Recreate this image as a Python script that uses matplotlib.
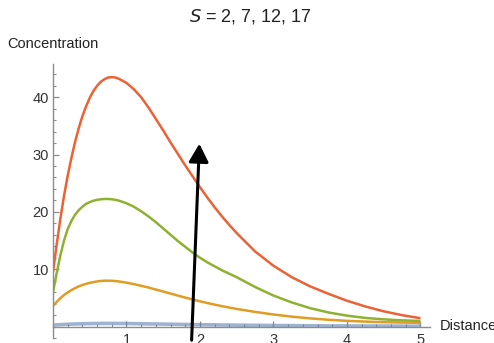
import matplotlib
matplotlib.use("Agg")
import matplotlib.pyplot as plt
from matplotlib.patches import FancyArrowPatch
from matplotlib.ticker import MultipleLocator, FixedLocator

plt.rcParams['font.family'] = ['Liberation Sans', 'DejaVu Sans']

# distance grid shared by all curves (finer near the peak)
distance = [0, 0.05, 0.1, 0.15, 0.2, 0.25, 0.3, 0.35, 0.4, 0.45, 0.5, 0.55, 0.6,
            0.65, 0.7, 0.75, 0.8, 0.85, 0.9,
            1.0, 1.1, 1.2, 1.3, 1.4, 1.5, 1.6, 1.7, 1.8, 1.9, 2.0, 2.1, 2.2, 2.3,
            2.4, 2.5,
            2.75, 3.0, 3.25, 3.5, 3.75, 4.0, 4.25, 4.5, 4.75, 5.0]

# concentration for S = 2, 7, 12, 17
conc_s2 = [0.25, 0.29, 0.33, 0.36, 0.39, 0.42, 0.44, 0.46, 0.48, 0.5, 0.51, 0.52, 0.53,
           0.54, 0.54, 0.54, 0.54, 0.54, 0.53,
           0.52, 0.5, 0.48, 0.46, 0.44, 0.42, 0.4, 0.38, 0.36, 0.34, 0.32, 0.3, 0.29,
           0.27, 0.26, 0.24,
           0.21, 0.18, 0.15, 0.13, 0.11, 0.1, 0.09, 0.08, 0.07, 0.06]
conc_s7 = [3.6, 4.3, 4.95, 5.5, 5.95, 6.35, 6.7, 7.0, 7.25, 7.45, 7.62, 7.75, 7.87,
           7.95, 8.0, 8.0, 7.98, 7.93, 7.86,
           7.65, 7.4, 7.1, 6.8, 6.45, 6.1, 5.75, 5.4, 5.05, 4.72, 4.4, 4.1, 3.82,
           3.55, 3.3, 3.07,
           2.55, 2.1, 1.72, 1.42, 1.18, 0.99, 0.86, 0.76, 0.7, 0.65]
conc_s12 = [6.0, 9.3, 12.4, 15.0, 17.0, 18.4, 19.5, 20.3, 20.9, 21.4, 21.7, 21.95, 22.1,
            22.2, 22.25, 22.25, 22.2, 22.1, 21.95,
            21.5, 20.9, 20.1, 19.2, 18.2, 17.1, 16.0, 14.9, 13.9, 12.9, 12.0, 11.2, 10.5,
            9.8, 9.2, 8.6,
            6.9, 5.4, 4.2, 3.2, 2.45, 1.9, 1.5, 1.25, 1.08, 0.97]
conc_s17 = [9.5, 14.3, 18.8, 22.8, 26.3, 29.4, 32.2, 34.6, 36.7, 38.4, 39.9, 41.1, 42.0,
            42.7, 43.15, 43.45, 43.5, 43.45, 43.2,
            42.5, 41.4, 40.0, 38.2, 36.2, 34.2, 32.1, 30.1, 28.1, 26.2, 24.3, 22.5, 20.8,
            19.2, 17.7, 16.3,
            13.1, 10.6, 8.6, 7.0, 5.7, 4.5, 3.5, 2.65, 1.98, 1.45]

series = [conc_s2, conc_s7, conc_s12, conc_s17]
colors = ['#5E81B5', '#E19C24', '#8FB131', '#EB6235']

fig = plt.figure(figsize=(4.94, 3.43), dpi=100)
ax = fig.add_axes([0.1073, 0.0146, 0.7632, 0.7988])

for vals, c in zip(series, colors):
    if c == '#5E81B5':
        ax.plot(distance, vals, color=c, lw=2.6, alpha=0.6, solid_capstyle='butt')
    else:
        ax.plot(distance, vals, color=c, lw=1.8, solid_capstyle='butt')

ax.set_xlim(0, 5.13)
ax.set_ylim(-2.0, 45.8)

# axes crossing at the origin
for s in ['top', 'right']:
    ax.spines[s].set_visible(False)
ax.spines['bottom'].set_position(('data', 0))
ax.spines['left'].set_position(('data', 0))
for s in ['bottom', 'left']:
    ax.spines[s].set_color('#8c8c8c')
    ax.spines[s].set_linewidth(1.0)

ax.xaxis.set_major_locator(FixedLocator([1, 2, 3, 4, 5]))
ax.xaxis.set_minor_locator(MultipleLocator(0.2))
ax.yaxis.set_major_locator(FixedLocator([10, 20, 30, 40]))
ax.yaxis.set_minor_locator(MultipleLocator(2))
ax.tick_params(which='both', direction='in', color='#8c8c8c', labelcolor='#333333',
               labelsize=10.5)
ax.tick_params(which='major', length=4.5, width=0.9)
ax.tick_params(which='minor', length=2.5, width=0.8)
ax.tick_params(axis='x', pad=5)
ax.tick_params(axis='y', pad=3)

fig.text(7 / 494, 1 - 44 / 343, 'Concentration', fontsize=10.5, color='#222222',
         ha='left', va='center')
fig.text(440 / 494, 1 - 326 / 343, 'Distance', fontsize=10.5, color='#222222',
         ha='left', va='center')
fig.text(250 / 494, 1 - 17 / 343, r'$S$ = 2, 7, 12, 17', fontsize=13,
         color='#222222', ha='center', va='center')

arrow = FancyArrowPatch((191.5 / 494, 0.0), (199.5 / 494, 1 - 141 / 343),
                        transform=fig.transFigure, arrowstyle='-|>,head_length=5.5,head_width=3.0',
                        color='black', lw=2.2, mutation_scale=2)
fig.add_artist(arrow)

fig.savefig('out.png', dpi=100)
